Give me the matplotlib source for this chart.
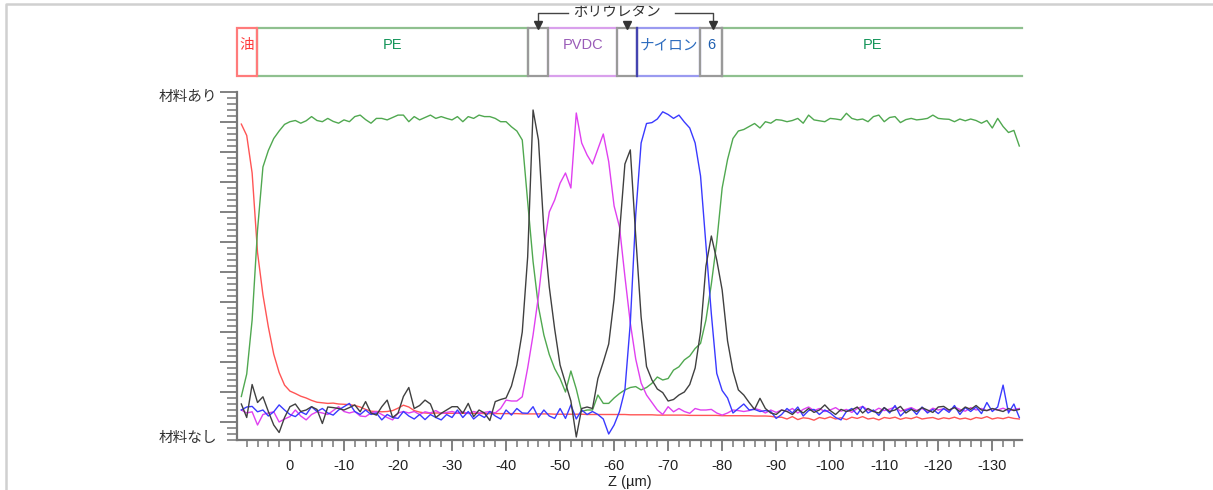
import numpy as np
import matplotlib
matplotlib.use("Agg")
import matplotlib.pyplot as plt
from matplotlib.patches import Rectangle
from matplotlib.lines import Line2D
from matplotlib.ticker import MultipleLocator, FuncFormatter

plt.rcParams["font.family"] = ["Liberation Sans", "Noto Sans CJK JP"]
plt.rcParams["axes.unicode_minus"] = False

# --- depth grid (um), 1 um step ---
z = np.arange(9, -136, -1)

# --- signal of each material (0 = 材料なし, 100 = 材料あり) ---
oil = [99.3, 95.5, 83.0, 56.5, 42.4, 31.7, 22.6, 16.5, 12.3, 10.3,
       9.5, 8.6, 8.0, 7.2, 6.6, 6.4, 6.2, 6.3, 6.0, 5.9,
       5.8, 5.5, 5.0, 4.2, 3.6, 3.5, 3.4, 3.5, 3.8, 4.6,
       5.6, 5.0, 3.8, 3.3, 3.0, 2.9, 3.0, 3.0, 2.9, 2.9,
       2.9, 2.9, 2.9, 2.9, 2.9, 2.8, 2.8, 2.8, 2.8, 2.8,
       2.8, 2.8, 2.7, 2.7, 2.7, 2.7, 2.7, 2.7, 2.6, 2.6,
       2.6, 2.6, 2.6, 2.6, 2.5, 2.5, 2.5, 2.5, 2.5, 2.5,
       2.5, 2.5, 2.4, 2.4, 2.4, 2.4, 2.4, 2.3, 2.3, 2.3,
       2.3, 2.3, 2.3, 2.2, 2.2, 2.2, 2.2, 2.2, 2.2, 2.1,
       2.1, 2.1, 2.1, 2.1, 2.1, 2.0, 2.0, 2.0, 1.9, 1.6,
       1.6, 1.0, 1.8, 0.8, 1.4, 1.2, 0.6, 1.5, 1.1, 1.7,
       1.0, 1.4, 0.8, 1.6, 1.2, 1.8, 1.0, 1.3, 0.7, 1.5,
       1.2, 1.6, 0.9, 1.4, 1.1, 1.7, 1.0, 1.3, 1.5, 0.9,
       1.4, 1.1, 1.6, 1.0, 1.3, 0.8, 1.5, 1.2, 1.8, 1.0,
       1.4, 1.1, 1.6, 1.2, 1.0]

pe = [8.5, 16.0, 34.0, 64.0, 85.0, 90.5, 94.5, 97.0, 99.2, 100.1,
      100.5, 99.6, 100.4, 101.8, 100.5, 100.1, 101.2, 100.2, 99.6, 100.7,
      100.1, 101.8, 102.3, 100.8, 99.6, 101.2, 101.2, 100.7, 101.5, 102.3,
      102.3, 100.1, 101.8, 100.7, 101.5, 102.3, 101.2, 101.8, 101.2, 100.7,
      101.8, 100.1, 101.8, 101.2, 102.3, 101.8, 101.8, 101.2, 100.1, 100.1,
      98.4, 97.0, 94.0, 73.5, 53.5, 38.4, 29.0, 22.5, 17.8, 14.5,
      10.0, 17.0, 11.0, 3.5, 4.0, 4.0, 9.0, 6.2, 6.2, 8.0,
      9.5, 10.7, 11.5, 11.8, 10.7, 11.5, 12.9, 15.0, 14.0, 14.5,
      17.3, 18.4, 20.7, 22.0, 24.5, 26.2, 34.0, 46.0, 60.0, 78.0,
      87.5, 94.5, 97.0, 97.5, 98.5, 99.5, 98.0, 100.1, 99.6, 100.8,
      100.6, 100.1, 100.5, 101.2, 99.6, 102.3, 100.7, 100.4, 100.1, 101.2,
      101.0, 100.7, 102.9, 101.2, 100.7, 101.0, 100.1, 101.8, 102.3, 100.1,
      101.5, 101.8, 99.8, 100.8, 101.2, 100.7, 100.9, 101.2, 102.3, 101.2,
      101.0, 100.9, 100.1, 101.0, 100.4, 101.0, 100.5, 99.6, 100.5, 98.0,
      101.2, 98.5, 96.5, 97.2, 92.0]

pu = [6.0, 1.5, 12.5, 6.5, 8.4, 3.5, -1.0, -3.5, 1.5, 5.1,
      6.0, 3.5, 4.0, 5.1, 4.2, -0.5, 5.0, 4.8, 4.5, 4.0,
      4.8, 5.7, 3.4, 6.8, 3.0, 2.3, 5.1, 7.3, 1.5, 2.9,
      8.5, 11.5, 4.5, 5.5, 7.3, 6.0, 1.5, 2.9, 4.0, 5.1,
      5.1, 2.9, 6.2, 1.8, 4.0, 3.0, 0.5, 6.8, 7.5, 8.0,
      12.0, 19.0, 30.0, 55.0, 104.0, 94.0, 64.0, 45.0, 31.0, 19.0,
      13.0, 7.0, -5.0, 4.5, 5.0, 4.5, 14.5, 20.0, 26.0, 41.0,
      63.0, 86.0, 90.7, 62.0, 35.0, 18.5, 14.0, 11.0, 9.8, 7.0,
      7.5, 9.0, 10.0, 12.5, 18.0, 30.0, 52.0, 62.0, 54.0, 44.0,
      27.0, 17.0, 10.7, 9.0, 6.5, 4.2, 7.9, 4.5, 3.0, 2.5,
      4.0, 3.5, 2.5, 4.2, 3.0, 4.5, 3.2, 4.0, 5.7, 3.8,
      2.5, 4.2, 3.5, 4.0, 5.0, 3.0, 4.5, 3.5, 3.0, 4.8,
      3.5, 4.0, 5.2, 3.0, 4.2, 3.5, 4.8, 4.0, 3.2, 5.0,
      5.2, 4.0, 4.8, 3.5, 5.0, 4.2, 5.5, 4.0, 3.8, 4.5,
      4.0, 3.5, 4.5, 3.8, 4.2]

pvdc = [4.0, 3.0, 3.4, -1.0, 2.5, 3.0, 3.4, 0.0, 1.0, 1.8,
        4.0, 2.0, 0.7, 2.5, 3.4, 3.0, 2.5, 3.8, 5.1, 3.5,
        3.0, 3.5, 2.0, 1.8, 3.0, 3.5, 2.5, 1.5, 0.7, 3.0,
        3.5, 3.0, 3.5, 2.5, 3.4, 3.0, 3.8, 2.8, 3.2, 3.5,
        3.0, 3.4, 2.8, 3.5, 3.0, 3.2, 3.5, 3.0, 4.5, 7.3,
        7.0, 7.0, 8.4, 18.0, 29.0, 42.0, 58.0, 70.0, 74.0, 79.6,
        83.0, 78.0, 103.0, 93.0, 89.0, 86.0, 91.0, 96.0, 86.8, 72.0,
        65.0, 48.5, 33.0, 21.0, 13.0, 9.0, 6.5, 4.0, 2.5, 5.1,
        3.4, 4.5, 3.5, 2.9, 4.5, 4.0, 4.0, 4.2, 3.0, 2.3,
        3.0, 4.0, 3.8, 3.5, 3.8, 4.5, 4.0, 3.0, 4.0, 3.2,
        4.0, 3.5, 4.5, 3.0, 4.2, 5.0, 3.8, 4.5, 3.5, 4.0,
        4.8, 3.6, 4.2, 3.2, 4.5, 5.2, 4.0, 3.5, 4.6, 3.8,
        4.3, 5.0, 3.6, 4.2, 4.8, 3.9, 4.5, 3.4, 4.6, 4.0,
        4.4, 3.8, 5.0, 4.2, 3.6, 4.8, 4.0, 4.5, 3.8, 4.4,
        4.0, 4.6, 3.8, 4.2, 4.5]

nylon = [4.0, 5.0, 5.2, 3.4, 4.0, 2.0, 3.4, 5.7, 4.0, 2.5,
         1.8, 3.4, 2.5, 5.1, 3.5, 4.5, 3.0, 2.3, 4.0, 5.1,
         6.2, 3.5, 2.5, 4.0, 2.5, 3.0, 0.7, 2.5, 1.5, 1.2,
         3.5, 2.0, 1.0, 2.5, 0.8, 2.5, 1.5, 0.7, 2.5, 1.5,
         4.0, 1.5, 3.5, 1.0, 2.5, 1.5, 3.5, 2.0, 1.0, 4.0,
         2.3, 4.5, 3.0, 2.9, 5.1, 1.5, 4.0, 2.0, 1.2, 4.5,
         1.2, 5.7, 1.0, 4.0, 2.5, 3.5, 2.5, 1.0, -4.0, -1.0,
         3.5, 10.7, 33.0, 69.0, 93.0, 99.5, 99.8, 101.0, 103.4, 102.5,
         101.2, 102.3, 100.0, 98.0, 93.0, 82.0, 59.0, 36.0, 16.2, 10.5,
         8.0, 3.0, 4.5, 6.0, 4.0, 4.2, 3.5, 3.8, 3.5, 1.2,
         2.5, 4.5, 3.0, 5.0, 2.0, 3.8, 4.2, 2.5, 4.0, 3.0,
         1.5, 0.7, 3.5, 4.5, 2.5, 5.2, 3.0, 4.0, 2.2, 4.8,
         3.0, 5.5, 2.0, 3.8, 4.5, 2.5, 5.0, 3.0, 4.2, 2.8,
         4.5, 3.2, 5.5, 2.5, 4.8, 3.5, 5.0, 2.8, 6.5, 3.5,
         5.0, 12.3, 3.0, 6.0, 1.5]

# --- layer structure shown above the plot ---
layer_names = ["油", "PE", "", "PVDC", "", "ナイロン", "6", "PE"]
layer_edges = [9.8, 6.1, -44.1, -47.8, -60.6, -64.3, -75.9, -80.0, -135.5]
layer_edgecolors = ["#ff7b7b", "#8fc08f", "#9a9a9a", "#d9a0ec", "#9a9a9a", "#9a9af0", "#9a9a9a", "#8fc08f"]
layer_textcolors = ["#ff3b3b", "#15955a", "#555555", "#9a5cb8", "#555555", "#2c6cbf", "#1f5fb0", "#15955a"]

fig = plt.figure(figsize=(12.13, 4.9), dpi=100)
ax = fig.add_axes([237 / 1213, 50 / 490, 785 / 1213, 348 / 490])

ax.plot(z, oil, color="#ff5555", lw=1.0)
ax.plot(z, pe, color="#50a850", lw=1.0)
ax.plot(z, pvdc, color="#e040f0", lw=1.0)
ax.plot(z, nylon, color="#3a3aff", lw=1.0)
ax.plot(z, pu, color="#404040", lw=1.0)

ax.set_xlim(9.8, -135.5)
ax.set_ylim(-6, 110)
ax.xaxis.set_major_locator(MultipleLocator(10))
ax.xaxis.set_minor_locator(MultipleLocator(2))
ax.yaxis.set_major_locator(MultipleLocator(10))
ax.yaxis.set_minor_locator(MultipleLocator(2))
ax.xaxis.set_major_formatter(FuncFormatter(lambda v, p: f"{int(round(v))}"))
ax.set_yticklabels([])
for side in ["top", "right"]:
    ax.spines[side].set_visible(False)
for side in ["left", "bottom"]:
    ax.spines[side].set_color("#777777")
    ax.spines[side].set_linewidth(1.6)
ax.tick_params(axis="x", which="major", length=8, width=1.3, color="#777777",
               labelsize=10.5, labelcolor="#222222", pad=6)
ax.tick_params(axis="x", which="minor", length=5, width=1.1, color="#777777")
ax.tick_params(axis="y", which="major", length=12, width=1.3, color="#777777")
ax.tick_params(axis="y", which="minor", length=7, width=1.1, color="#777777")
ax.set_xlabel("Z (µm)", fontsize=10.5, color="#222222", labelpad=1)

fig.text(217 / 1213, 1 - 97 / 490, "材料あり", ha="right", va="center", fontsize=10.5, color="#333333")
fig.text(217 / 1213, 1 - 438 / 490, "材料なし", ha="right", va="center", fontsize=10.5, color="#333333")

# --- layer band ---
band = fig.add_axes([237 / 1213, 414 / 490, 785 / 1213, 48 / 490])
band.set_xlim(9.8, -135.5)
band.set_ylim(0, 1)
band.axis("off")

order = [1, 3, 5, 0, 2, 4, 6, 7]
for i in order:
    x0, x1 = layer_edges[i], layer_edges[i + 1]
    if i == len(layer_names) - 1:
        band.plot([x0, x1], [0, 0], color=layer_edgecolors[i], lw=1.6, clip_on=False)
        band.plot([x0, x1], [1, 1], color=layer_edgecolors[i], lw=1.6, clip_on=False)
        band.plot([x0, x0], [0, 1], color="#9a9a9a", lw=1.6, clip_on=False)
    else:
        band.add_patch(Rectangle((x1, 0), x0 - x1, 1, fill=False, lw=1.6,
                                 edgecolor=layer_edgecolors[i], clip_on=False))
    if layer_names[i]:
        band.text((x0 + x1) / 2, 0.64, layer_names[i], ha="center", va="center",
                  fontsize=10.5, color=layer_textcolors[i])
band.plot([layer_edges[5], layer_edges[5]], [0, 1], color="#4444b0", lw=1.6, clip_on=False)

# polyurethane bracket
bk = "#444444"
band.plot([-45.9, -45.9, -51.5], [1.06, 1.31, 1.31], color=bk, lw=1.0, clip_on=False)
band.plot([-71.3, -78.3, -78.3], [1.31, 1.31, 1.06], color=bk, lw=1.0, clip_on=False)
for xa in [-45.9, -62.4, -78.3]:
    band.plot(xa, 1.07, marker="v", ms=6, color="#333333", clip_on=False)
band.text(-60.5, 1.33, "ポリウレタン", ha="center", va="center", fontsize=10.5, color="#333333")

# light frame
fig.add_artist(Line2D([6 / 1213, 6 / 1213, 1], [0, 1 - 4 / 490, 1 - 4 / 490],
                      transform=fig.transFigure, color="#d0d0d0", lw=1.8))

plt.savefig("out.png", dpi=100)
